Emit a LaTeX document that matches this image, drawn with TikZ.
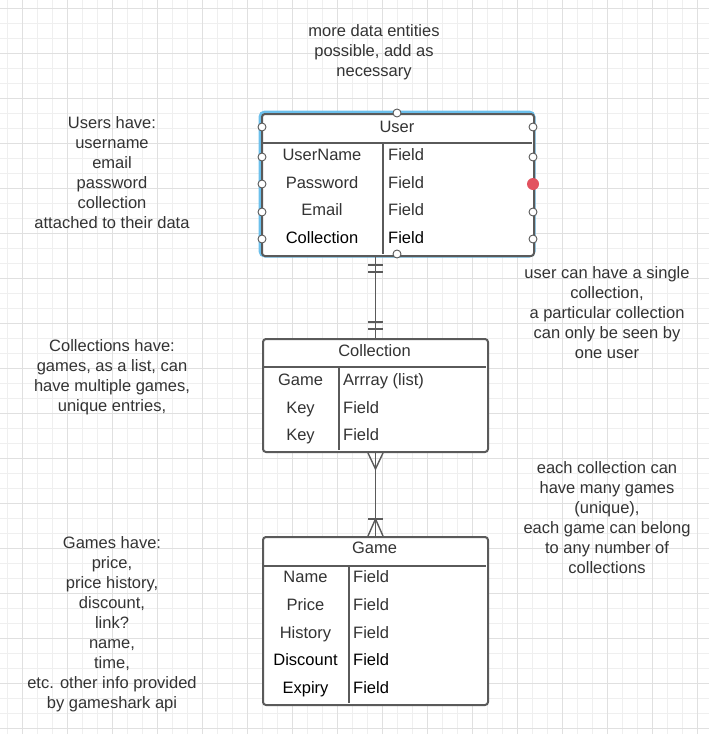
\documentclass[tikz,border=0pt]{standalone}
\usepackage{fontspec}
\setmainfont{Liberation Sans}
\usetikzlibrary{calc}
\definecolor{ln}{HTML}{5A5A5A}
\definecolor{tx}{HTML}{333333}
\definecolor{sel}{HTML}{6CC0EC}
\definecolor{hot}{HTML}{E2525F}
\definecolor{gmin}{HTML}{EFEFEF}
\definecolor{gmaj}{HTML}{E0E0E0}
\begin{document}
\begin{tikzpicture}[x=1pt,y=-1pt,
  font=\fontsize{16.5}{20}\selectfont,
  tbl/.style={draw=ln, line width=2pt, rounded corners=3pt, inner sep=0pt, anchor=north west, fill=white},
  sep/.style={draw=ln, line width=2pt},
  lbl/.style={text=tx, inner sep=0pt, text height=11.8pt, text depth=0.6pt},
  lblk/.style={lbl, text=black},
  fld/.style={lbl, anchor=west},
  fldk/.style={fld, text=black},
  note/.style={text=tx, align=center, inner sep=0pt},
  port/.style={circle, draw=ln, fill=white, line width=0.9pt, minimum size=8pt, inner sep=0pt},
  hotport/.style={circle, fill=hot, minimum size=12pt, inner sep=0pt},
  rel/.style={draw=ln, line width=1.8pt},
  relthin/.style={draw=ln, line width=1.4pt}]
\useasboundingbox (0,0) rectangle (709,734);
\fill[white] (0,0) rectangle (709,734);
% grid
\foreach \i in {0,...,46} {\draw[gmin, line width=0.8pt] (7+15*\i,0) -- (7+15*\i,734);}
\foreach \i in {0,...,48} {\draw[gmin, line width=0.8pt] (0,8+15*\i) -- (709,8+15*\i);}
\foreach \i in {0,...,15} {\draw[gmaj, line width=0.8pt] (22+45*\i,0) -- (22+45*\i,734);}
\foreach \i in {0,...,16} {\draw[gmaj, line width=0.8pt] (0,8+45*\i) -- (709,8+45*\i);}

% ---------- User table ----------
\draw[sel, line width=5pt, rounded corners=4pt] (261,113) rectangle (533,255);
\node[tbl, minimum width=272pt, minimum height=142pt] (user) at (261,113) {};
\draw[sep] (262,143) -- (532,143);
\draw[sep] (383,143) -- (383,254);
\node[lbl] (uhead) at (397,127) {User};
\node[lbl] (ur1) at (322,155) {UserName};
\node[lbl] (ur2) at (322,183) {Password};
\node[lbl] (ur3) at (322,210) {Email};
\node[lblk] (ur4) at (322,238) {Collection};
\node[fld] (uf1) at (388,155) {Field};
\node[fld] (uf2) at (388,183) {Field};
\node[fld] (uf3) at (388,210) {Field};
\node[fldk] (uf4) at (388,238) {Field};
% ports
\node[port] (pN) at (397,113) {};
\node[port] (pS) at (397,254) {};
\node[port] (pW0) at (262,127) {};
\node[port] (pW1) at (262,157) {};
\node[port] (pW2) at (262,184) {};
\node[port] (pW3) at (262,212) {};
\node[port] (pW4) at (262,239) {};
\node[port] (pE0) at (533,127) {};
\node[port] (pE1) at (533,157) {};
\node[hotport] (pE2) at (533,184) {};
\node[port] (pE3) at (533,212) {};
\node[port] (pE4) at (533,239) {};

% ---------- Collection table ----------
\node[tbl, minimum width=225pt, minimum height=113pt] (coll) at (262,338) {};
\draw[sep] (263,367) -- (486,367);
\draw[sep] (339,367) -- (339,450);
\node[lbl] (chead) at (374.5,351) {Collection};
\node[lbl] (cr1) at (300.5,380) {Game};
\node[lbl] (cr2) at (300.5,408) {Key};
\node[lbl] (cr3) at (300.5,435) {Key};
\node[fld] (cf1) at (343,380) {Arrray (list)};
\node[fld] (cf2) at (343,408) {Field};
\node[fld] (cf3) at (343,435) {Field};

% ---------- Game table ----------
\node[tbl, minimum width=225pt, minimum height=168pt] (game) at (262,536) {};
\draw[sep] (263,566) -- (486,566);
\draw[sep] (349,566) -- (349,703);
\node[lbl] (ghead) at (374.5,548) {Game};
\node[lbl] (gr1) at (305.5,577) {Name};
\node[lbl] (gr2) at (305.5,605) {Price};
\node[lbl] (gr3) at (305.5,633) {History};
\node[lblk] (gr4) at (305.5,660) {Discount};
\node[lblk] (gr5) at (305.5,688) {Expiry};
\node[fld] (gf1) at (353,577) {Field};
\node[fld] (gf2) at (353,605) {Field};
\node[fld] (gf3) at (353,633) {Field};
\node[fldk] (gf4) at (353,660) {Field};
\node[fldk] (gf5) at (353,688) {Field};

% ---------- relation User -- Collection (one to one) ----------
\coordinate (ut) at (coll.north |- user.south);
\draw[rel] (ut) -- (coll.north);
\draw[relthin] ($(ut)+(-7.5,8)$) -- ($(ut)+(7.5,8)$);
\draw[relthin] ($(ut)+(-7.5,15)$) -- ($(ut)+(7.5,15)$);
\draw[relthin] ($(coll.north)+(-7.5,-16)$) -- ($(coll.north)+(7.5,-16)$);
\draw[relthin] ($(coll.north)+(-7.5,-9)$) -- ($(coll.north)+(7.5,-9)$);

% ---------- relation Collection -- Game (many to many) ----------
\draw[rel] (coll.south) -- (game.north);
\draw[relthin] ($(coll.south)+(-7.5,0)$) -- ($(coll.south)+(0,16)$) -- ($(coll.south)+(7.5,0)$);
\draw[relthin] ($(game.north)+(-7.5,-17)$) -- ($(game.north)+(7.5,-17)$);
\draw[relthin] ($(game.north)+(-7.5,0)$) -- ($(game.north)+(0,-17)$) -- ($(game.north)+(7.5,0)$);

% ---------- notes ----------
\node[note] (n1) at (374,52.5) {more data entities\\possible, add as\\necessary};
\node[note] (n2) at (112,172.5) {Users have:\\username\\email\\password\\collection\\attached to their data};
\node[note] (n3) at (607,312.5) {user can have a single\\collection,\\a particular collection\\can only be seen by\\one user};
\node[note] (n4) at (112,377.5) {Collections have:\\games, as a list, can\\have multiple games,\\unique entries,};
\node[note] (n5) at (607,517.5) {each collection can\\have many games\\(unique),\\each game can belong\\to any number of\\collections};
\node[note] (n6) at (112,624.5) {Games have:\\price,\\price history,\\discount,\\link?\\name,\\time,\\etc. other info provided\\by gameshark api};
\end{tikzpicture}
\end{document}
